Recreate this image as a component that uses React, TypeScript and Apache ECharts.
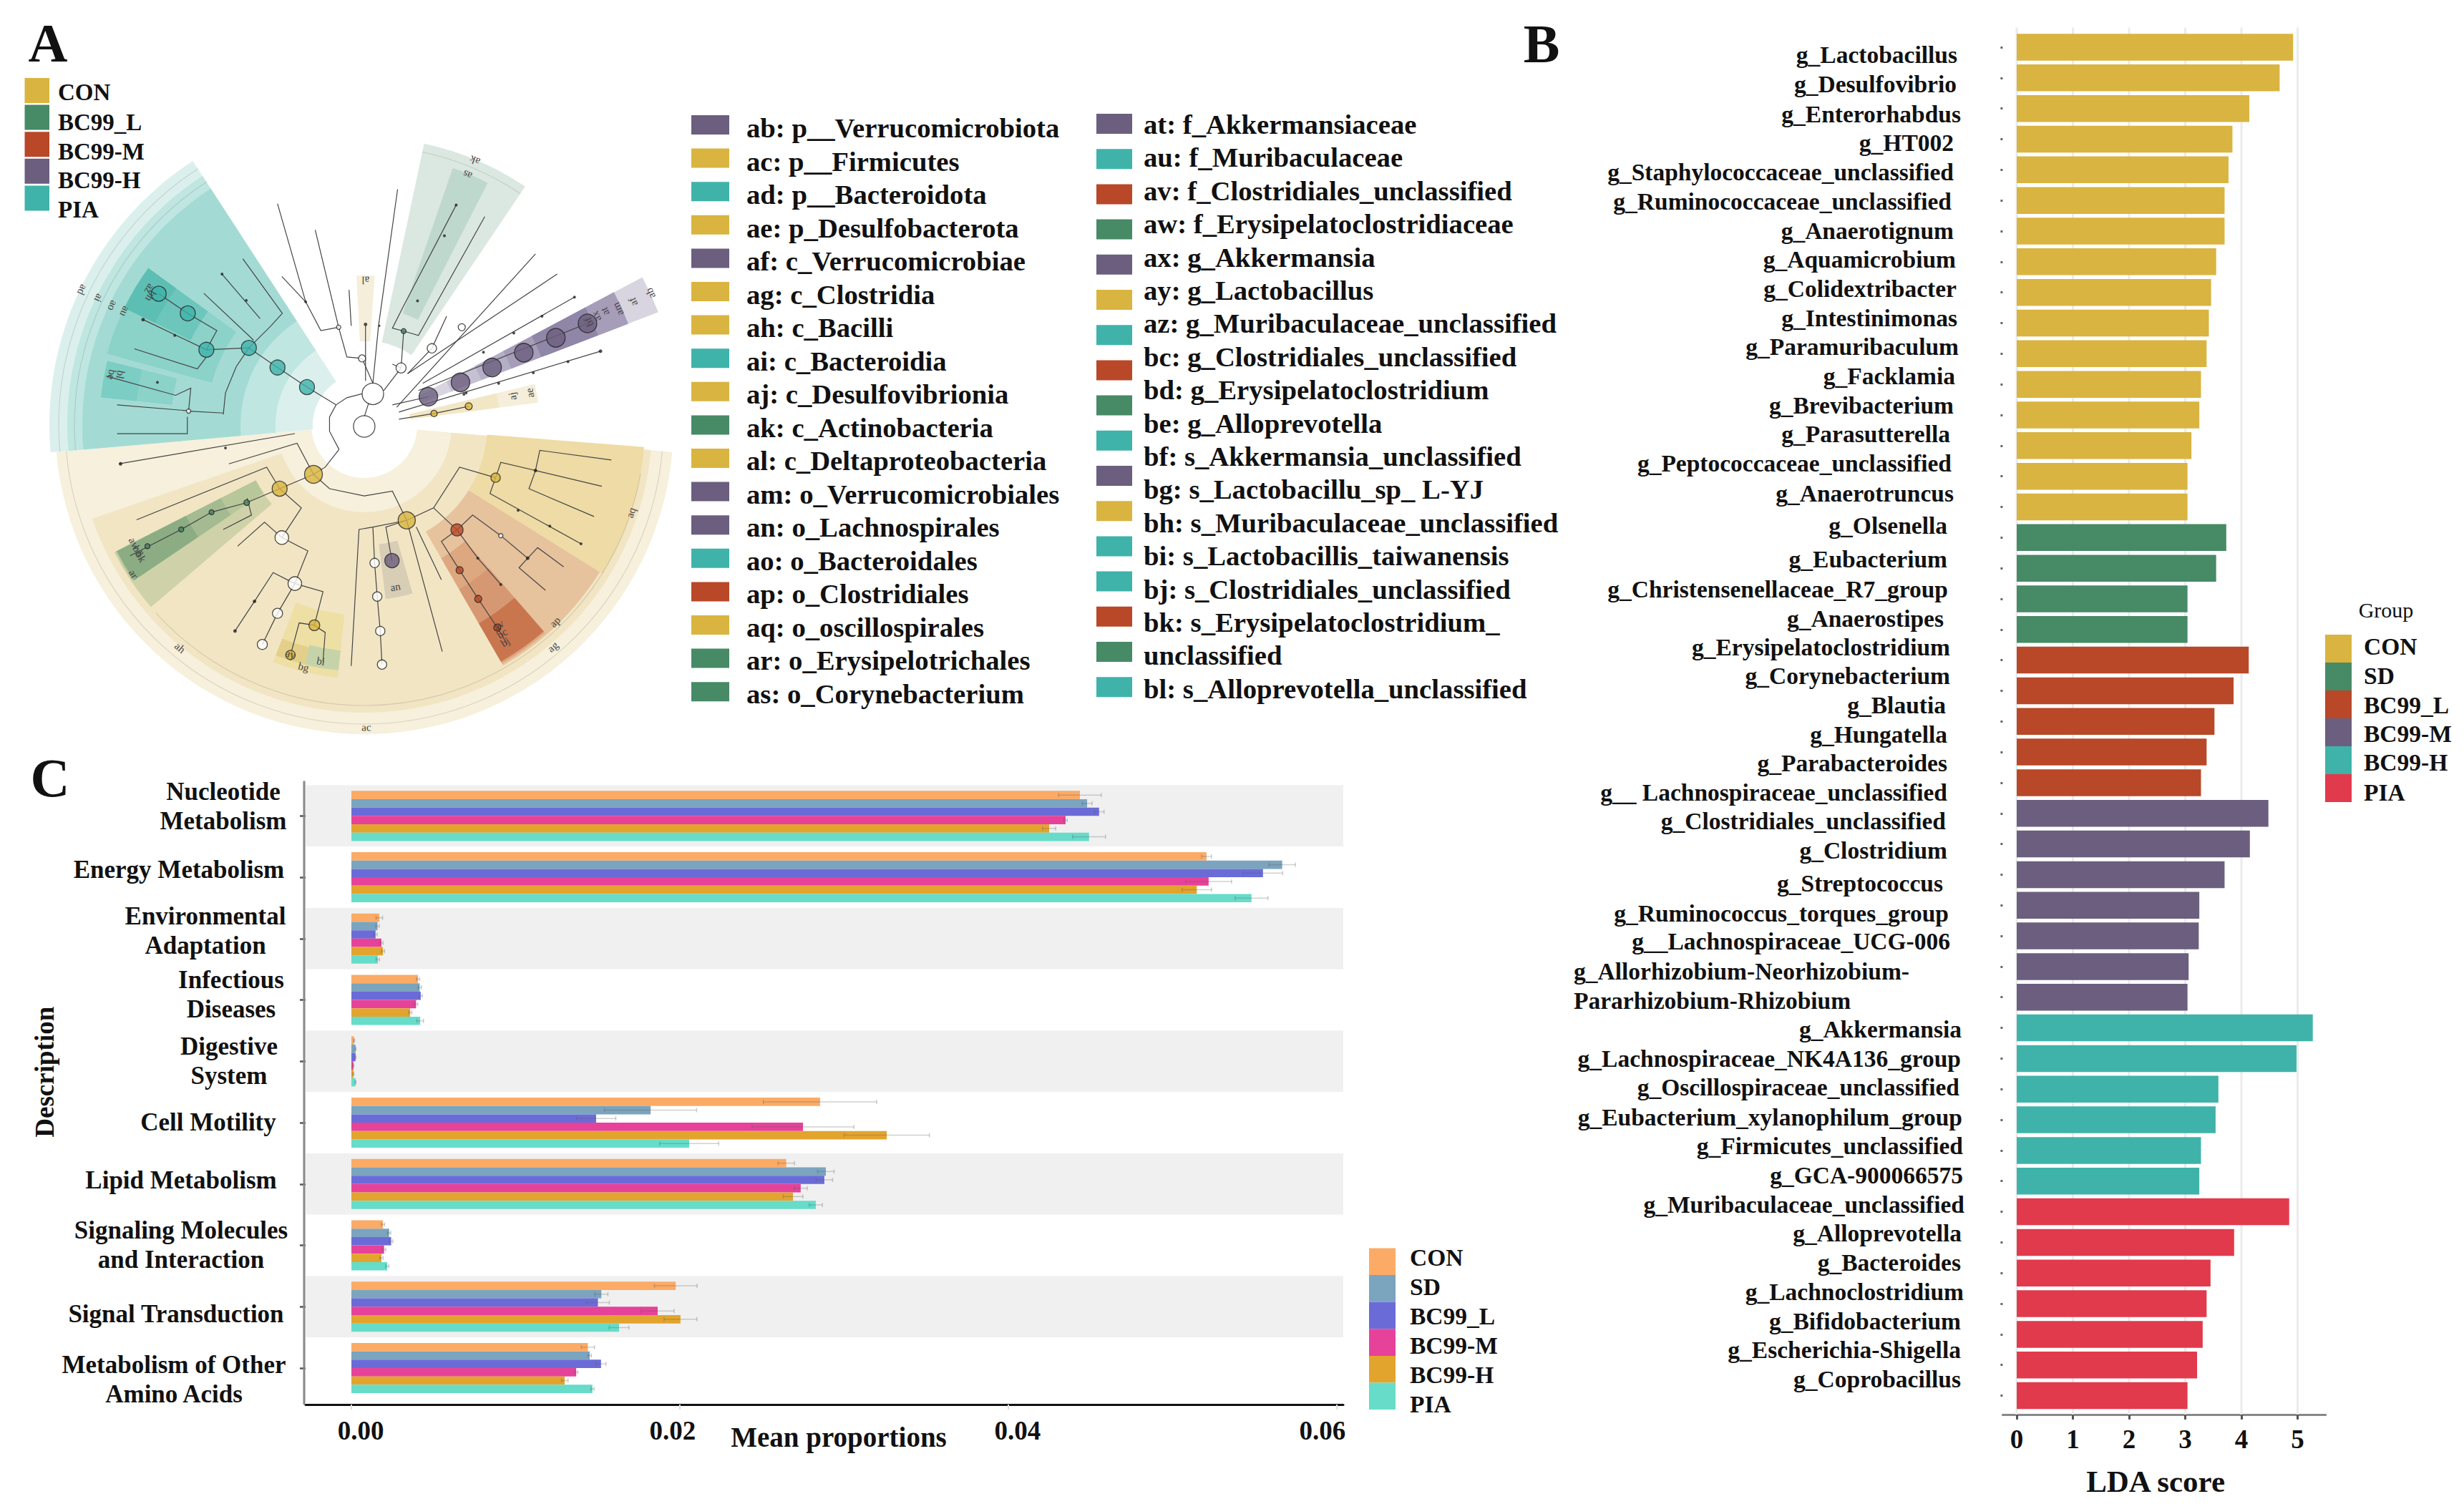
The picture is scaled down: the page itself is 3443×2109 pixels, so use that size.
import React, { useEffect, useRef } from "react";
import * as echarts from "echarts";

const FONT = '"Liberation Serif", "Times New Roman", serif';

// ---------- Panel B data (LDA) ----------
const ldaCon = ["g_Lactobacillus","g_Desulfovibrio","g_Enterorhabdus","g_HT002","g_Staphylococcaceae_unclassified","g_Ruminococcaceae_unclassified","g_Anaerotignum","g_Aquamicrobium","g_Colidextribacter","g_Intestinimonas","g_Paramuribaculum","g_Facklamia","g_Brevibacterium","g_Parasutterella","g_Peptococcaceae_unclassified","g_Anaerotruncus"];
const ldaConScore = [4.92,4.68,4.14,3.84,3.77,3.70,3.70,3.55,3.46,3.42,3.38,3.28,3.25,3.11,3.04,3.04];
const ldaSd = ["g_Olsenella","g_Eubacterium","g_Christensenellaceae_R7_group","g_Anaerostipes"];
const ldaSdScore = [3.73,3.55,3.04,3.04];
const ldaL = ["g_Erysipelatoclostridium","g_Corynebacterium","g_Blautia","g_Hungatella","g_Parabacteroides"];
const ldaLScore = [4.13,3.86,3.52,3.38,3.28];
const ldaM = ["g__ Lachnospiraceae_unclassified","g_Clostridiales_unclassified","g_Clostridium","g_Streptococcus","g_Ruminococcus_torques_group","g__Lachnospiraceae_UCG-006","g_Allorhizobium-Neorhizobium-"];
const ldaMScore = [4.48,4.15,3.70,3.25,3.24,3.06,3.04];
const ldaH = ["g_Akkermansia","g_Lachnospiraceae_NK4A136_group","g_Oscillospiraceae_unclassified","g_Eubacterium_xylanophilum_group","g_Firmicutes_unclassified","g_GCA-900066575"];
const ldaHScore = [5.27,4.98,3.59,3.54,3.28,3.25];
const ldaP = ["g_Muribaculaceae_unclassified","g_Alloprevotella","g_Bacteroides","g_Lachnoclostridium","g_Bifidobacterium","g_Escherichia-Shigella","g_Coprobacillus"];
const ldaPScore = [4.85,3.87,3.45,3.38,3.31,3.21,3.04];
const ldaTicks = [0,1,2,3,4,5];
const ldaGroupNames = ["CON","SD","BC99_L","BC99-M","BC99-H","PIA"];
const ldaColors = ["#d9b440","#478a66","#b84828","#6b5e7e","#3fb3aa","#e13a4c"];

// label placement in panel B (hand-moved in the original figure)
const ldaLabelRight = [2735,2734,2740,2730,2730,2727,2730,2733,2734,2735,2737,2732,2730,2725,2727,2730,2721,2721,2722,2716,2725,2725,2719,2721,2721,2721,2719,2721,2715,2723,2725,2668,2741,2740,2738,2742,2743,2743,2745,2741,2740,2744,2740,2740,2740];
const ldaLabelY = [76,117,159,199,240,281,322,362,403,444,484,525,566,606,647,689,734,781,823,864,904,944,985,1026,1066,1107,1147,1188,1234,1276,1315,1357,1438,1479,1519,1561,1601,1642,1683,1723,1764,1805,1846,1886,1927];

// ---------- Panel C data (KEGG means) ----------
const pathways = ["Nucleotide\nMetabolism","Energy Metabolism","Environmental\nAdaptation","Infectious\nDiseases","Digestive\nSystem","Cell Motility","Lipid Metabolism","Signaling Molecules\nand Interaction","Signal Transduction","Metabolism of Other\nAmino Acids"];
const meanGroups = ["CON","SD","BC99_L","BC99-M","BC99-H","PIA"];
const meanColors = ["#fbab66","#7ba4bf","#6b6bd8","#e64299","#e3a42e","#66dcc9"];
const meanCon = [0.04436,0.05207,0.0017,0.00406,0.00016,0.02854,0.02648,0.00192,0.01975,0.0144];
const meanSd = [0.0448,0.05668,0.00159,0.00416,0.00025,0.01822,0.02889,0.0023,0.01522,0.01451];
const meanL = [0.04553,0.05551,0.00147,0.00422,0.00025,0.0149,0.0288,0.00242,0.01501,0.0152];
const meanM = [0.04349,0.0522,0.00183,0.00394,0.00012,0.0275,0.02736,0.00199,0.01865,0.01369];
const meanH = [0.04249,0.05148,0.00192,0.00358,0.00012,0.0326,0.02689,0.00183,0.02004,0.01299];
const meanP = [0.04492,0.05481,0.00161,0.00419,0.00025,0.02057,0.02828,0.00218,0.0163,0.01468];
const errCon = [0.0013,0.0003,0.0002,0.0001,0.00003,0.00345,0.0005,0.0001,0.0013,0.0004];
const errSd = [0.0003,0.0008,0.0001,0.0001,0.00003,0.0028,0.0005,0.0001,0.0004,0.0001];
const errL = [0.0003,0.0012,0.0001,0.0001,0.00003,0.0012,0.0005,0.0001,0.0007,0.0003];
const errM = [0.0001,0.0014,0.0001,0.0001,0.00003,0.0031,0.0004,0.0001,0.001,0.0001];
const errH = [0.0004,0.0009,0.0001,0.0001,0.00003,0.0026,0.0006,0.0001,0.001,0.0002];
const errP = [0.001,0.001,0.0001,0.0002,0.00003,0.0018,0.0004,0.0001,0.0006,0.0001];
const meanTicks = [0,0.02,0.04,0.06];
const pathwayLabelCx = [312,250,287,323,320,291,253,253,246,243];
const pathwayLabelY = [1127,1215,1301,1390,1483,1568,1649,1740,1836,1928];

// ---------- Panel A data (cladogram) ----------
const cladoLegendNames = ["CON","BC99_L","BC99-M","BC99-H","PIA"];
const cladoLegendColors = ["#d9b440","#478a66","#b84828","#6b5e7e","#3fb3aa"];
const taxaLeft = ["ab: p__Verrucomicrobiota","ac: p__Firmicutes","ad: p__Bacteroidota","ae: p_Desulfobacterota","af: c_Verrucomicrobiae","ag: c_Clostridia","ah: c_Bacilli","ai: c_Bacteroidia","aj: c_Desulfovibrionia","ak: c_Actinobacteria","al: c_Deltaproteobacteria","am: o_Verrucomicrobiales","an: o_Lachnospirales","ao: o_Bacteroidales","ap: o_Clostridiales","aq: o_oscillospirales","ar: o_Erysipelotrichales","as: o_Corynebacterium"];
const taxaLeftGroup = [3,0,4,0,3,0,0,4,0,1,0,3,3,4,2,0,1,1];
const taxaRight = ["at: f_Akkermansiaceae","au: f_Muribaculaceae","av: f_Clostridiales_unclassified","aw: f_Erysipelatoclostridiaceae","ax: g_Akkermansia","ay: g_Lactobacillus","az: g_Muribaculaceae_unclassified","bc: g_Clostridiales_unclassified","bd: g_Erysipelatoclostridium","be: g_Alloprevotella","bf: s_Akkermansia_unclassified","bg: s_Lactobacillu_sp_ L-YJ","bh: s_Muribaculaceae_unclassified","bi: s_Lactobacillis_taiwanensis","bj: s_Clostridiales_unclassified","bk: s_Erysipelatoclostridium_","unclassified","bl: s_Alloprevotella_unclassified"];
const taxaRightSwatch = [3,4,2,1,3,0,4,2,1,4,3,0,4,4,2,1,4];

const wedgePalette = ["#f6f0dc","#f1e5c4","#eedba5","#e6c29d","#dda77f","#d69872","#c9764f","#d8cdb5","#eedfa5","#c6d3a8","#e3cf8a","#cfd2a8","#b8c79a","#a4bb92","#8cad84","#dbf0ed","#bfe6e1","#a3dbd4","#8bd2c9","#6dc6bc","#5dbfb4","#7ccdc3","#dbe8e1","#bfd8cd","#f5eeda","#f2e7c5","#d8d4e0","#c6c0d3","#b5aec7","#a69db9","#8f86a8"];
// r0, r1, start angle, end angle (clockwise from the top), palette entry
const wedges = [
  [74,432,95,265,0],[122,402,95,251,1],[172,392,94.5,122,2],
  [172,388,122,150,3],[215,385,139,150,4],[265,382,139,150,5],[320,382,139,150,6],
  [168,245,164,173,7],[266,355,186,201,8],[320,345,194,201,10],[317,345,186,194,9],
  [170,392,229.5,243,11],[170,390,236,243,12],[225,388,236,243,13],[280,388,236,243,14],
  [72,440,265,327,15],[124,415,265,327,16],[173,394,265,327,17],[221,373,285.5,306,18],[270,373,296,306,19],[325,373,296,306,20],[270,370,276,284,18],[320,370,276,284,21],
  [118,402,12,34,22],[165,380,19,27,23],[117,209,357,364,24],
  [85,440,62,69,26],[130,395,62,69,27],[175,395,62,69,28],[220,395,62,69,29],[265,350,62,69,30],
  [65,245,76.5,82.7,24],[65,190,76.5,82.7,25],
];
const ringArcs = [[418,95,265],[392,100,228],[427,265,327],[405,265,327],[390,12,34]];

// cladogram branches and nodes, in the cladogram's own drawing units (0-1568 on both axes)
const branches = [
  [[840,870],[850,842]],
  [[782,938],[760,900],[760,870],[775,845],[800,830],[835,822]],
  [[775,845],[708,808],[640,767],[574,726]],
  [[650,655],[625,680],[574,726],[545,765],[520,820],[515,865]],
  [[560,540],[652,655]],[[512,572],[600,665]],[[470,612],[585,710]],
  [[574,726],[476,730]],[[476,730],[500,690],[433,654],[366,613]],[[330,667],[476,730]],[[310,728],[455,770],[476,745]],
  [[515,862],[435,858]],[[435,858],[440,810],[405,825],[245,785]],[[270,845],[430,857]],[[270,905],[432,905],[432,870]],
  [[905,845],[988,828]],[[915,850],[1235,530]],[[940,780],[1285,572]],[[975,800],[1325,620]],[[965,815],[1355,675]],[[920,860],[1385,733]],[[920,875],[1001,863],[1081,848]],
  [[860,800],[835,748]],[[835,748],[800,745],[781,683]],[[781,683],[740,690],[705,630],[640,425]],[[705,630],[650,577]],[[781,683],[727,480]],[[810,680],[805,605]],
  [[860,800],[873,680],[917,395]],[[843,795],[843,680]],[[885,815],[925,768]],[[925,768],[931,691]],[[905,760],[925,768]],
  [[931,691],[905,685],[930,640],[1052,428]],[[931,691],[965,700],[1118,452]],
  [[940,780],[996,727],[1030,660]],
  [[782,938],[750,975],[723,990]],[[723,990],[645,1020]],[[723,990],[685,925],[528,968]],[[680,905],[275,968]],
  [[723,990],[760,1020],[840,1035],[905,1025],[938,1086]],
  [[645,1020],[615,975],[315,1085]],[[645,1020],[695,1060],[650,1122]],[[645,1020],[569,1049],[488,1069],[418,1105],[300,1160]],[[570,1040],[580,1075],[515,1105]],
  [[650,1122],[610,1090],[548,1140]],[[650,1122],[710,1150],[680,1218]],
  [[680,1218],[630,1195],[587,1255],[542,1317]],[[680,1218],[640,1280],[605,1345]],[[680,1218],[745,1235],[725,1305]],
  [[725,1305],[690,1300],[670,1367]],[[725,1305],[750,1320],[745,1380]],
  [[938,1086],[1000,1060],[1060,975],[1143,997]],
  [[1143,997],[1155,965],[1235,982],[1245,940],[1410,960]],[[1235,982],[1220,1020],[1370,1078]],[[1235,982],[1388,1015]],[[1143,997],[1130,1030],[1340,1135]],
  [[1000,1060],[1054,1106]],[[1054,1106],[1090,1075],[1155,1118],[1217,1165],[1240,1143],[1300,1183]],[[1217,1165],[1197,1185],[1258,1232]],
  [[1054,1106],[1018,1130],[1060,1190],[1103,1250],[1147,1310],[1170,1345]],[[1054,1106],[1102,1165],[1155,1220]],
  [[938,1086],[860,1100],[828,1105],[810,1390]],[[860,1100],[864,1175],[870,1245],[877,1317],[881,1387]],[[938,1086],[890,1100],[904,1170]],[[938,1086],[1020,1360]],[[960,1100],[1018,1210]],
];
const nodeColors = ["#d9b440","#478a66","#b84828","#6b5e7e","#3fb3aa","#ffffff","#222222"];
// x, y, diameter, colour entry
const nodes = [
  [708,808,21,4],[640,767,21,4],[574,726,21,4],[476,730,21,4],[433,654,21,4],[366,613,21,4],
  [988,828,26,3],[1062,798,26,3],[1135,767,26,3],[1208,736,26,3],[1282,705,26,3],[1355,675,26,3],[904,1170,20,3],
  [723,990,25,0],[645,1020,21,0],[938,1086,24,0],[1143,997,13,0],[725,1305,15,0],[670,1367,13,0],[1081,848,10,0],[1001,863,9,0],
  [1054,1106,17,2],[1060,1190,10,2],[1103,1250,10,2],[1147,1310,10,2],
  [569,1049,8,1],[488,1069,7,1],[418,1105,7,1],[340,1140,7,1],[931,691,7,1],
  [860,822,30,5],[840,890,30,5],[925,768,14,5],[996,727,13,5],[1065,683,10,5],[835,748,10,5],[781,683,6,5],[650,1122,19,5],[680,1218,19,5],[640,1280,14,5],[605,1345,14,5],[864,1175,13,5],[870,1245,13,5],[877,1317,13,5],[881,1387,13,5],[1155,1118,6,5],[435,858,6,5],
  [403,700,4,6],[568,627,4,6],[330,667,5,6],[363,798,4,6],[512,572,4,6],[1052,428,4,6],[1025,492,4,6],[963,628,4,6],[843,677,5,6],[875,680,3,6],[705,630,4,6],[1385,733,5,6],[1310,755,4,6],[1230,778,4,6],[1150,800,4,6],[1070,823,4,6],[1325,620,4,6],[1250,660,4,6],[1185,695,4,6],[1115,735,4,6],[1075,820,4,6],[587,1255,5,6],[542,1317,5,6],[1195,1065,4,6],[1268,1098,4,6],[1340,1135,4,6],[1235,982,5,6],[1217,1165,5,6],[1102,1165,4,6],[1155,1220,4,6],[278,968,5,6],[520,935,4,6],
];
const wedgeLabels = [
  ["ac",845,1518],["ah",415,1352],["aq",1455,1070],["ag",1275,1350],["ap",1280,1298],["ar",308,1198],["an",912,1225],["ae",1222,820],["aj",1182,827],
  ["ab",1500,612],["af",1460,630],["am",1425,645],["at",1395,650],["ax",1375,660],["bf",1358,672],
  ["ad",190,605],["ai",228,622],["ao",260,638],["au",288,650],["az",345,603],["bh",348,618],["be",258,782],["bl",278,782],
  ["al",843,585],["ak",1095,335],["as",1078,365],["av",1150,1305],["bc",1158,1322],["bj",1165,1340],["aw",310,1135],["bd",318,1150],["bk",325,1162],["ay",670,1365],["bg",700,1392],["bi",740,1380],
];

const axisFont = { fontFamily: FONT, fontWeight: "bold" as const, color: "#111" };

function textEl(text: string, x: number, y: number, fontSize: number, extra: any = {}) {
  return {
    type: "text", x, y, z: 20, silent: true,
    style: { text, fontFamily: FONT, fontSize, fontWeight: "bold", fill: "#111", align: "left", verticalAlign: "middle", ...extra },
  };
}
function rectEl(x: number, y: number, width: number, height: number, fill: string) {
  return { type: "rect", z: 20, silent: true, shape: { x, y, width, height }, style: { fill } };
}

function buildOption() {
  const ldaNames = [...ldaCon, ...ldaSd, ...ldaL, ...ldaM, ...ldaH, ...ldaP];
  const ldaSets = [ldaConScore, ldaSdScore, ldaLScore, ldaMScore, ldaHScore, ldaPScore];
  const ldaBandTop = 44.6, ldaBand = 42.83, ldaRightMax = 2745, gridBLeft = 2798.4, ldaLine = 36;
  // zrender shifts top-anchored text by padding[0] only, so labels are anchored at the top
  const ldaCats = ldaNames.map((value, i) => {
    const dy = ldaLabelY[i] - (ldaBandTop + ldaBand * (i + 0.5));
    return { value, textStyle: { verticalAlign: "top", align: "right", padding: [dy - ldaLine / 2, ldaRightMax - ldaLabelRight[i], 0, 0] } };
  });
  let offset = 0;
  const ldaSeries = ldaSets.map((scores, g) => {
    const data = ldaNames.map((_, i) => (i >= offset && i < offset + scores.length ? scores[i - offset] : "-"));
    offset += scores.length;
    return {
      type: "bar", name: ldaGroupNames[g], xAxisIndex: 0, yAxisIndex: 0, stack: "lda", barWidth: 37.5, z: 3,
      itemStyle: { color: ldaColors[g] }, data,
    };
  });

  const meanSets = [meanCon, meanSd, meanL, meanM, meanH, meanP];
  const errSets = [errCon, errSd, errL, errM, errH, errP];
  const cBandTop = 1097.5, cBand = 85.74, cMaxCx = 323, gridCLeft = 427, cLine = 41;
  const cCats = pathways.map((value, i) => {
    const dy = pathwayLabelY[i] - (cBandTop + cBand * (i + 0.5));
    const h = cLine * value.split("\n").length;
    return { value, textStyle: { verticalAlign: "top", align: "center", padding: [dy - h / 2, 2 * (cMaxCx - pathwayLabelCx[i]), 0, 0] } };
  });
  const barH = 11.67;
  const meanSeries = meanSets.map((vals, g) => ({
    type: "bar", name: meanGroups[g], xAxisIndex: 1, yAxisIndex: 1, barWidth: barH, barGap: "0%", z: 3,
    itemStyle: { color: meanColors[g] }, data: vals,
  }));
  const errRows: number[][] = [];
  meanSets.forEach((vals, g) => vals.forEach((v, c) => errRows.push([v, c, g, errSets[g][c]])));

  const tickRich: any = {};
  const tickShift: Record<string, number[]> = { "0.00": [0, 0, 0, 26], "0.02": [0, 20, 0, 0], "0.04": [0, 0, 0, 26], "0.06": [0, 40, 0, 0] };
  Object.keys(tickShift).forEach((k, i) => {
    tickRich["t" + i] = { fontFamily: FONT, fontWeight: "bold", fontSize: 37, color: "#111", padding: tickShift[k] };
  });

  const graphicEls: any[] = [
    textEl("A", 67, 60, 76, { align: "center" }),
    textEl("B", 2154, 61, 76, { align: "center" }),
    textEl("C", 70, 1087, 76, { align: "center" }),
  ];
  const aTextY = [129, 171, 212, 252, 293];
  cladoLegendNames.forEach((n, i) => {
    graphicEls.push(rectEl(34.5, 109 + 37.6 * i, 34.5, 35, cladoLegendColors[i]));
    graphicEls.push(textEl(n, 81, aTextY[i], 33));
  });
  taxaLeft.forEach((n, i) => {
    graphicEls.push(rectEl(966, 161 + 46.6 * i, 53, 27, cladoLegendColors[taxaLeftGroup[i]]));
    graphicEls.push(textEl(n, 1043, 179 + 46.5 * i, 38.7));
  });
  taxaRight.forEach((n, i) => {
    graphicEls.push(textEl(n, 1598, 174 + 46.4 * i, 38.7));
  });
  taxaRightSwatch.forEach((g, i) => {
    graphicEls.push(rectEl(1532, 159 + 49.2 * i, 50, 28, cladoLegendColors[g]));
  });
  graphicEls.push(textEl("Pararhizobium-Rhizobium", 2199, 1398, 33.5));
  graphicEls.push(textEl("Group", 3334, 852, 30, { fontWeight: "normal", align: "center" }));
  const bTextY = [903, 944, 985, 1025, 1065, 1107];
  ldaGroupNames.forEach((n, i) => {
    graphicEls.push(rectEl(3249, 887 + 39 * i, 37, 39, ldaColors[i]));
    graphicEls.push(textEl(n, 3303, bTextY[i], 33.5));
  });
  const cTextY = [1757, 1798, 1839, 1880, 1921, 1962];
  meanGroups.forEach((n, i) => {
    graphicEls.push(rectEl(1913, 1744.5 + 37.6 * i, 37, 37.6, meanColors[i]));
    graphicEls.push(textEl(n, 1970, cTextY[i], 33.5));
  });

  return {
    animation: false,
    backgroundColor: "#ffffff",
    graphic: { elements: graphicEls },
    polar: { center: [509, 594], radius: [0, 442] },
    radiusAxis: { min: 0, max: 442, show: false },
    angleAxis: { min: 0, max: 360, startAngle: 90, clockwise: true, show: false },
    grid: [
      { left: gridBLeft, top: ldaBandTop, width: 451.35, height: 45 * ldaBand, outerBoundsMode: "none" },
      { left: gridCLeft, top: cBandTop, width: 1450, height: 10 * cBand, outerBoundsMode: "none" },
      { left: 0, top: 0, width: 950, height: 1050, outerBoundsMode: "none" },
    ],
    xAxis: [
      {
        gridIndex: 0, type: "value", min: -0.25, max: 5.5, offset: 5, position: "bottom",
        name: "LDA score", nameLocation: "middle", nameGap: 72, nameMoveOverlap: false,
        nameTextStyle: { ...axisFont, fontSize: 43, padding: [0, 24, 0, 0] },
        axisLine: { show: true, onZero: false, lineStyle: { color: "#888", width: 3 } },
        axisTick: { show: true, customValues: ldaTicks, length: 7, lineStyle: { color: "#555", width: 3 } },
        axisLabel: { show: true, customValues: ldaTicks, margin: 16, fontSize: 37, ...axisFont },
        splitLine: { show: false },
      },
      {
        gridIndex: 1, type: "value", min: -0.00279, max: 0.0604, offset: 8, position: "bottom",
        name: "Mean proportions", nameLocation: "middle", nameGap: 26, nameMoveOverlap: false,
        nameTextStyle: { ...axisFont, fontSize: 39, padding: [0, 0, 0, 40] },
        axisLine: { show: true, onZero: false, lineStyle: { color: "#111", width: 3 } },
        axisTick: { show: true, customValues: meanTicks, length: 7, lineStyle: { color: "#ddd", width: 2 } },
        axisLabel: {
          show: true, customValues: meanTicks, margin: 18, ...axisFont, fontSize: 37,
          formatter: (v: number) => {
            const s = v.toFixed(2);
            return `{t${Object.keys(tickShift).indexOf(s)}|${s}}`;
          },
          rich: tickRich,
        },
        splitLine: { show: false },
      },
      { gridIndex: 2, type: "value", min: 0, max: 1568, show: false },
    ],
    yAxis: [
      {
        gridIndex: 0, type: "category", inverse: true, data: ldaCats,
        axisLine: { show: false, onZero: false },
        axisTick: { show: true, alignWithLabel: true, length: 3, lineStyle: { color: "#666", width: 3 } },
        axisLabel: { show: true, interval: 0, margin: gridBLeft - ldaRightMax, align: "right", fontSize: 33.5, lineHeight: ldaLine, ...axisFont },
        splitLine: { show: false },
      },
      {
        gridIndex: 1, type: "category", inverse: true, data: cCats,
        name: "Description", nameLocation: "middle", nameGap: 346, nameRotate: 90, nameMoveOverlap: false,
        nameTextStyle: { ...axisFont, fontSize: 37, padding: [0, 0, 0, 56] },
        axisLine: { show: false, onZero: false },
        axisTick: { show: true, alignWithLabel: true, length: 8, lineStyle: { color: "#555", width: 2.5 } },
        axisLabel: { show: true, interval: 0, margin: gridCLeft - cMaxCx, align: "center", fontSize: 35, lineHeight: cLine, ...axisFont },
        splitArea: { show: true, interval: 0, areaStyle: { color: ["#f0f0f0", "#ffffff"] } },
        splitLine: { show: false },
      },
      { gridIndex: 2, type: "value", min: 0, max: 1568, inverse: true, show: false },
    ],
    series: [
      // panel A
      {
        type: "custom", coordinateSystem: "polar", z: 1, silent: true, clip: false,
        data: wedges, encode: { radius: 1, angle: 3 },
        renderItem: (params: any, api: any) => {
          const cs = params.coordSys;
          const ang = (r: number, a: number) => {
            const p = api.coord([r, a]);
            return Math.atan2(p[1] - cs.cy, p[0] - cs.cx);
          };
          return {
            type: "sector",
            shape: { cx: cs.cx, cy: cs.cy, r0: api.value(0), r: api.value(1), startAngle: ang(100, api.value(2)), endAngle: ang(100, api.value(3)), clockwise: true },
            style: { fill: wedgePalette[api.value(4)] },
          };
        },
      },
      {
        type: "custom", coordinateSystem: "polar", z: 1.5, silent: true, clip: false,
        data: ringArcs, encode: { radius: 0, angle: 1 },
        renderItem: (params: any, api: any) => {
          const cs = params.coordSys;
          const ang = (a: number) => {
            const p = api.coord([100, a]);
            return Math.atan2(p[1] - cs.cy, p[0] - cs.cx);
          };
          return {
            type: "arc",
            shape: { cx: cs.cx, cy: cs.cy, r: api.value(0), startAngle: ang(api.value(1)), endAngle: ang(api.value(2)), clockwise: true },
            style: { stroke: "rgba(90,90,70,0.18)", lineWidth: 1.2, fill: "none" },
          };
        },
      },
      {
        type: "custom", xAxisIndex: 2, yAxisIndex: 2, z: 2, silent: true, clip: false,
        data: branches.map((_, i) => [i, i]),
        renderItem: (_p: any, api: any) => ({
          type: "polyline",
          shape: { points: branches[api.value(0)].map((pt) => api.coord(pt)) },
          style: { stroke: "#444", lineWidth: 1.2, fill: "none" },
        }),
      },
      {
        type: "scatter", xAxisIndex: 2, yAxisIndex: 2, z: 3, silent: true, clip: false,
        data: nodes.map((n) => ({
          value: [n[0], n[1]], symbolSize: n[2],
          itemStyle: { color: nodeColors[n[3]], borderColor: "#222", borderWidth: n[3] === 6 ? 0 : 1.3 },
        })),
      },
      {
        type: "custom", xAxisIndex: 2, yAxisIndex: 2, z: 4, silent: true, clip: false,
        data: wedgeLabels.map((w) => [w[1], w[2]]),
        renderItem: (params: any, api: any) => {
          const p = api.coord([api.value(0), api.value(1)]);
          const th = Math.atan2(p[1] - 594, p[0] - 509);
          return {
            type: "text", x: p[0], y: p[1], rotation: -(th - Math.PI / 2),
            style: { text: wedgeLabels[params.dataIndex][0] as string, fontFamily: FONT, fontSize: 15, fill: "#444", align: "center", verticalAlign: "middle" },
          };
        },
      },
      // panel B
      {
        type: "custom", xAxisIndex: 0, yAxisIndex: 0, z: 1, silent: true, clip: false,
        data: ldaTicks.map((t) => [t, 0]),
        renderItem: (params: any, api: any) => {
          const x = api.coord([api.value(0), 0])[0];
          const cs = params.coordSys;
          return { type: "line", shape: { x1: x, y1: cs.y - 6, x2: x, y2: cs.y + cs.height + 5 }, style: { stroke: "#ebebeb", lineWidth: 3 } };
        },
      },
      ...ldaSeries,
      // panel C
      {
        type: "custom", xAxisIndex: 1, yAxisIndex: 1, z: 1, silent: true, clip: false,
        data: [[0, 0]],
        renderItem: (params: any) => {
          const cs = params.coordSys;
          return { type: "line", shape: { x1: cs.x - 2, y1: cs.y - 6, x2: cs.x - 2, y2: cs.y + cs.height + 8 }, style: { stroke: "#888", lineWidth: 3 } };
        },
      },
      ...meanSeries,
      {
        type: "custom", xAxisIndex: 1, yAxisIndex: 1, z: 5, silent: true, clip: false,
        data: errRows,
        renderItem: (_p: any, api: any) => {
          const v = api.value(0), c = api.value(1), g = api.value(2), e = api.value(3);
          const a = api.coord([v - e, c]), b = api.coord([v + e, c]);
          const y = a[1] + (g - 2.5) * barH;
          return {
            type: "group",
            children: [
              { type: "line", shape: { x1: a[0], y1: y, x2: b[0], y2: y }, style: { stroke: "rgba(90,90,90,0.28)", lineWidth: 1.5 } },
              { type: "line", shape: { x1: a[0], y1: y - 3, x2: a[0], y2: y + 3 }, style: { stroke: "rgba(90,90,90,0.3)", lineWidth: 1.5 } },
              { type: "line", shape: { x1: b[0], y1: y - 3, x2: b[0], y2: y + 3 }, style: { stroke: "rgba(90,90,90,0.3)", lineWidth: 1.5 } },
            ],
          };
        },
      },
    ],
  };
}

export default function App() {
  const ref = useRef<HTMLDivElement>(null);
  useEffect(() => {
    const chart = echarts.init(ref.current!, undefined, { renderer: "svg" });
    chart.setOption(buildOption() as any);
    return () => chart.dispose();
  }, []);
  return <div ref={ref} style={{ position: "absolute", left: 0, top: 0, width: 3443, height: 2109 }} />;
}
